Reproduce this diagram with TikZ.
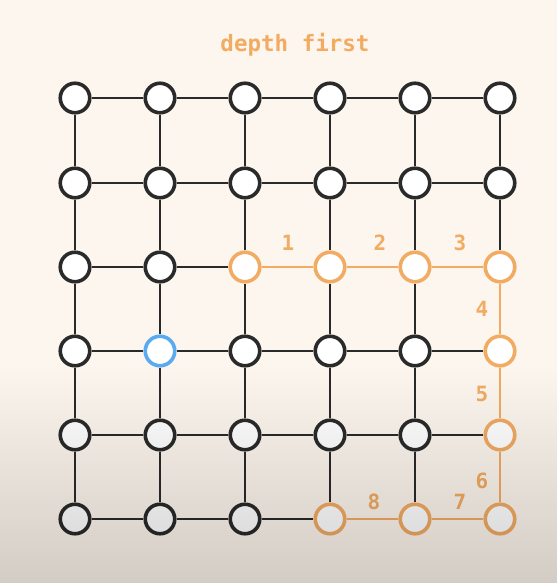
\documentclass[tikz,border=0pt]{standalone}
\usepackage{fontspec}
\newfontfamily\gridmono{DejaVu Sans Mono}
\usetikzlibrary{positioning,fadings}
\definecolor{PaperCream}{HTML}{FDF6EE}
\definecolor{TrailOrange}{HTML}{F2AB63}
\definecolor{StartBlue}{HTML}{5AAAF2}
\definecolor{GridDark}{HTML}{2A2A2A}

\begin{document}
\begin{tikzpicture}[x=1pt, y=-1pt,
        vertex/.style={circle, draw=GridDark, fill=white, line width=3.6pt, minimum size=29.5pt, inner sep=0pt},
        visited/.style={vertex, draw=TrailOrange},
        start/.style={vertex, draw=StartBlue},
        cell 2-2/.style=visited, cell 2-3/.style=visited, cell 2-4/.style=visited, cell 2-5/.style=visited,
        cell 3-5/.style=visited, cell 4-5/.style=visited, cell 5-5/.style=visited,
        cell 5-4/.style=visited, cell 5-3/.style=visited, cell 3-1/.style=start,
        edge/.style={draw=GridDark, line width=2.2pt},
        trail/.style={draw=TrailOrange, line width=2.8pt},
        countlabel/.style={text=TrailOrange, font=\gridmono\bfseries\fontsize{21}{23}\selectfont}
    ]
        \useasboundingbox (0,0) rectangle (557,583);
        \fill[PaperCream] (0,0) rectangle (557,583);

        \node[countlabel, font=\gridmono\bfseries\fontsize{22.5}{25}\selectfont] (title) at (295,45) {depth first};

        % grid of vertices
        \foreach \i/\y in {0/98,1/183,2/267,3/351,4/435,5/519}
            \foreach \j/\x in {0/75,1/160,2/245,3/330,4/415,5/500}
                \node[vertex, cell \i-\j/.try] (n-\i-\j) at (\x,\y) {};

        % grid edges
        \foreach \i in {0,...,5} {
            \foreach \j [evaluate=\j as \k using int(\j+1)] in {0,...,4} {
                \draw[edge] (n-\i-\j) -- (n-\i-\k);
                \draw[edge] (n-\j-\i) -- (n-\k-\i);
            }
        }

        % search trail
        \draw[trail] (n-2-2) -- (n-2-3) -- (n-2-4) -- (n-2-5) -- (n-3-5) -- (n-4-5) -- (n-5-5) -- (n-5-4) -- (n-5-3);

        \node[countlabel] (c1) at (288,243) {1};
        \node[countlabel] (c2) at (380,243) {2};
        \node[countlabel] (c3) at (460,243) {3};
        \node[countlabel] (c4) at (482,309) {4};
        \node[countlabel] (c5) at (482,394) {5};
        \node[countlabel] (c6) at (482,481) {6};
        \node[countlabel] (c7) at (460,502) {7};
        \node[countlabel] (c8) at (374,502) {8};

        % shadow at the bottom
        \fill[black, opacity=0.17, path fading=north] (0,365) rectangle (557,583);
    \end{tikzpicture}
\end{document}
